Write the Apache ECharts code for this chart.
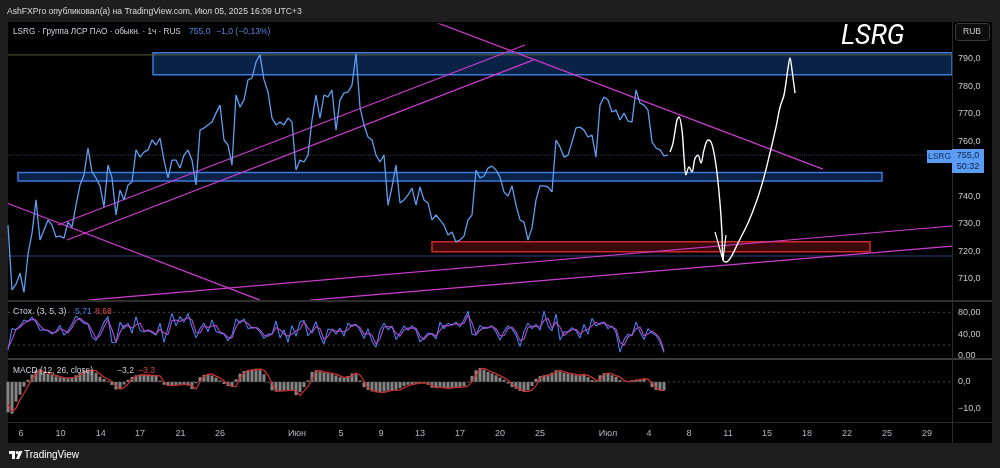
<!DOCTYPE html>
<html><head><meta charset="utf-8">
<script src="https://cdn.jsdelivr.net/npm/echarts@6/dist/echarts.min.js"></script>
<style>html,body{margin:0;padding:0;background:#1e1e1e;}#c{width:1000px;height:468px;}</style>
</head><body><div id="c"></div>
<script>
// ---- data (x = bar index, 1 step per sample) ----
const priceValues = [
729.5,705.9,708,712,705,719,726.6,738.7,724.1,727.7,
731.4,729.5,725.2,725.5,724.8,730.6,728.8,736.8,744.1,747.8,
757.6,748.9,746.7,743.8,736.1,751.4,746.7,733.2,742.3,738.7,
744.1,745.2,756.9,754.3,756.1,756.9,760.5,758.7,761.2,753.2,
746.7,753.2,753.2,750.3,755.0,756.9,753.2,744.1,764.1,764.9,
766.0,767.1,770.3,773.2,760.5,758.7,751.4,776.9,772.5,775.1,
782.4,783.1,788.9,791.5,782.4,778.0,768.5,766.0,767.1,766.0,
768.5,767.1,749.6,753.2,752.5,755.0,767.8,776.9,768.5,776.9,
776.2,778.7,764.1,775.1,777.6,778.0,780.5,792.0,772.5,766.0,
761.6,760.5,755.0,752.5,755.0,736.8,743.4,751.4,737.6,738.7,
740.5,743.0,736.8,743.4,738.7,737.6,731.4,733.2,731.4,729.5,
725.9,727.0,723.4,724.1,725.5,731.4,733.2,749.6,746.7,747.4,
750.3,751.0,749.6,747.0,741.6,740.1,743.8,736.8,731.4,730.6,
724.1,728.5,738.7,743.8,743.8,743.4,741.6,760.5,758.0,754.3,
755.0,759.8,764.9,765.2,764.1,761.6,762.3,754.3,773.2,776.2,
775.1,770.7,771.4,767.8,770.3,767.4,767.1,778.7,774.0,773.2,
771.4,759.8,757.6,756.9,754.7,755.0];
const stochK = [
11,50,48,55,66,63,71,62,47,48,46,40,45,56,38,46,58,73,66,60,
58,35,28,45,62,72,24,25,62,50,60,42,72,47,44,48,43,38,60,25,
52,78,55,72,62,78,53,33,50,60,44,66,45,42,40,28,38,68,60,68,
50,52,52,44,32,40,40,64,33,48,25,56,36,62,65,37,46,63,38,22,
49,49,40,51,36,60,54,58,47,32,50,27,16,47,60,48,55,30,42,55,
47,55,47,26,33,42,40,31,62,50,60,56,62,53,67,82,40,38,56,50,
52,55,44,29,45,55,50,38,17,45,60,50,58,47,82,55,46,77,29,44,
44,52,46,33,58,40,69,55,60,62,50,55,43,7,30,40,37,62,44,30,
50,42,38,26,6];
const stochD = [
14,30,49,52,60,64,67,66,55,48,47,43,43,50,47,42,52,65,69,63,
59,46,32,37,53,67,48,25,43,56,55,51,57,60,46,46,45,40,49,42,
39,65,66,63,67,70,66,43,42,55,52,55,56,44,41,34,33,53,64,64,
59,51,52,48,38,36,40,52,48,40,36,40,46,49,63,51,42,54,50,30,
36,49,45,46,44,48,57,56,52,40,41,38,22,32,53,54,52,42,36,48,
51,51,51,36,30,38,41,36,47,56,55,58,59,58,60,75,61,39,47,53,
51,54,50,37,37,50,53,44,28,31,52,55,54,53,65,69,51,62,53,37,
44,48,49,40,46,49,55,62,58,61,56,53,49,25,19,35,39,50,53,37,
40,46,40,32,9];
const macdValues = [
-11.5,-12.0,-7.5,-4.8,-1.8,0.8,2.8,4.4,4.8,3.6,3.0,2.6,2.1,1.7,1.5,1.4,1.6,2.5,3.4,4.1,
4.5,4.4,3.4,2.0,1.1,0.3,-1.2,-2.9,-2.4,-1.0,0.8,1.9,2.5,2.7,2.6,2.6,2.5,2.4,0.5,-1.1,
-1.5,-1.3,-1.2,-1.0,-0.9,-1.4,-2.7,-0.5,1.8,2.7,3.0,2.4,1.6,0.5,-0.8,-1.6,-1.9,1.0,3.1,4.1,
4.5,4.6,5.0,4.6,2.9,-0.2,-3.2,-3.6,-3.4,-3.3,-3.1,-3.3,-5.0,-3.8,-2.0,0.6,3.8,4.4,3.9,3.6,
3.3,3.0,2.4,1.8,1.6,2.2,3.2,2.9,0.6,-2.0,-3.0,-3.6,-3.9,-4.0,-3.7,-3.3,-3.1,-3.0,-2.4,-1.6,
-1.1,-0.8,-0.5,-0.4,-0.4,-1.1,-2.2,-2.1,-2.2,-2.4,-2.3,-2.2,-2.0,-2.0,-1.6,-0.2,2.3,4.4,5.3,4.6,
3.8,3.2,2.5,1.7,0.8,-0.6,-2.0,-2.6,-3.4,-3.8,-3.2,-1.6,1.2,2.2,2.5,2.8,3.5,4.4,4.0,3.5,
3.2,2.9,2.5,2.7,2.6,1.8,0.7,0.5,2.5,3.3,3.1,2.5,1.9,0.7,0.1,0.2,0.6,0.8,1.1,1.1,
0.0,-2.0,-3.0,-3.2,-3.2];
const signalValues = [
-8.6,-11.2,-10.0,-6.7,-4.3,-1.5,1.0,3.0,4.5,3.9,3.4,2.9,2.5,2.0,1.6,1.5,1.5,1.7,2.6,3.5,
4.2,4.4,4.2,3.0,1.8,1.0,0.2,-1.5,-2.8,-2.2,-0.8,1.0,2.0,2.6,2.6,2.6,2.5,2.4,2.3,0.0,
-1.3,-1.4,-1.2,-1.1,-1.0,-0.8,-1.5,-2.8,0.0,2.1,2.8,3.0,2.2,1.5,0.3,-0.9,-1.7,-1.8,1.5,3.3,
4.2,4.5,4.5,4.9,4.4,2.5,-0.6,-3.5,-3.5,-3.4,-3.3,-3.1,-3.4,-5.2,-3.4,-1.8,1.0,4.0,4.3,3.8,
3.5,3.2,2.9,2.3,1.7,1.7,2.3,3.3,2.6,0.3,-2.2,-3.1,-3.7,-3.9,-4.0,-3.6,-3.2,-3.1,-3.1,-2.2,
-1.5,-1.0,-0.7,-0.5,-0.5,-0.5,-1.3,-2.3,-2.0,-2.2,-2.4,-2.3,-2.1,-2.0,-2.0,-1.5,0.0,2.5,4.6,5.1,
4.4,3.7,3.1,2.4,1.6,0.6,-0.8,-2.1,-2.7,-3.5,-3.7,-3.0,-1.4,1.4,2.3,2.5,2.9,3.6,4.5,3.8,
3.4,3.1,2.8,2.5,2.8,2.5,1.7,0.6,0.8,2.7,3.3,3.0,2.4,1.8,0.6,0.1,0.3,0.7,0.7,1.2,
1.0,-0.2,-2.2,-3.1,-3.3];
const dateTickIndex = [3.25,13.15,23.2,33,43.1,53,72.25,83.25,93.25,103,113,123,133,150,160.25,170.25,180,189.75,199.75,209.75,219.75,229.75];
const dateTickLabels = ['6','10','14','17','21','26','Июн','5','9','13','17','20','25','Июл','4','8','11','15','18','22','25','29'];
const priceTicks = [710,720,730,740,750,760,770,780,790];
const stochTicks = [0,40,80];
const stochLevels = [80,20];
const macdTicks = [-10,0];
const lastPrice = 755.0, change = -1.0, changePct = -0.13;
const stochLast = [5.71, 8.68];
const macdLast = [-3.2, -3.3];
// zones: [x1, low, x2, high, kind(0 blue,1 red)]
const zones = [[36.25,784.3,236,792.3,0],[2.5,745.6,218.5,748.7,0],[106,719.8,215.5,723.5,1]];
const trendLines = [
 [[12.5,729.55],[129.25,795.1]],
 [[14.75,724.1],[131.25,789.6]],
 [[0,737.4],[63,702.2]],
 [[106.75,803.5],[203.75,749.9]],
 [[20,702.2],[236,729.2]],
 [[75.5,702.2],[236,721.9]]
];
const levelOlive = 791.5, levelNavy = 718.3;
const projection = [[165.5,756.1],[166.25,759.4],[167.25,767.8],[167.75,768.9],[168.5,764.1],[169,754.3],[169.5,747.8],[170.25,750.7],[171,748.9],[171.75,753.9],[172.5,755.0],[173.25,752.1],[174,756.9],[175,760.5],[175.75,759.8],[176.5,755.8],[177.25,748.5],[178,737.6],[178.5,726.6],[178.75,716.8],[179.5,716.1],[180.75,717.9],[182.5,723.0],[185,730.3],[187.25,738.7],[189,747.0],[190.5,755.8],[192,765.2],[193,772.5],[194,776.9],[195,786.7],[195.5,790.4],[196,786.0],[196.75,777.6]];
const arrowHead = [[176.75,727.0],[178.75,716.8],[179.5,725.9]];
const X_MAX = 236;

// ---- chart ----
const F = '"Liberation Sans", Arial, sans-serif';
const fmt = (v,d) => (v<0?'\u2212':'') + Math.abs(v).toFixed(d).replace('.',',');
const idx = a => a.map((v,i)=>[i,v]);
const chart = echarts.init(document.getElementById('c'), null, {width:1000, height:468});
const xBase = i => ({gridIndex:i, type:'value', min:0, max:X_MAX, show:i===2,
  axisLine:{show:false}, axisTick:{show:false}, splitLine:{show:false},
  axisLabel: i===2 ? {show:true, customValues:dateTickIndex, margin:7, color:'#b2b5be', fontSize:9, fontFamily:F,
    formatter: v => { let best=0,d=1e9; dateTickIndex.forEach((t,k)=>{const dd=Math.abs(t-v); if(dd<d){d=dd;best=k;}}); return dateTickLabels[best]; }} : {show:false}});
const yBase = (i,min,max,ticks,dec) => ({gridIndex:i, type:'value', position:'right', min, max,
  axisLine:{show:false}, axisTick:{show:false}, splitLine:{show:false},
  axisLabel:{customValues:ticks, margin:6, color:'#c8c8c8', fontSize:9, fontFamily:F, formatter: v=>fmt(v,dec)}});
const line = (data, color, w, extra) => Object.assign({type:'line', data, symbol:'none', silent:true,
  lineStyle:{color, width:w}, itemStyle:{color}, xAxisIndex:0, yAxisIndex:0}, extra||{});

const series = [];
series.push({type:'custom', xAxisIndex:0, yAxisIndex:0, clip:true, z:1, silent:true,
  data: zones, encode:{x:[0,2], y:[1,3]},
  renderItem(p, api){
    const a = api.coord([api.value(0), api.value(3)]);
    const b = api.coord([api.value(2), api.value(1)]);
    const red = api.value(4)===1;
    return {type:'rect', shape:{x:a[0], y:a[1], width:b[0]-a[0], height:b[1]-a[1]},
      style:{fill: red?'#3a0909':'#0a2246', stroke: red?'#cf2828':'#3c7ae0', lineWidth:1.5}};
  }});
series.push(line([[0,levelOlive],[X_MAX,levelOlive]], '#5e5d3a', 1, {z:1}));
series.push(line([[0,levelNavy],[X_MAX,levelNavy]], '#1e2d52', 1.5, {z:1}));
series.push(line([[0,lastPrice],[X_MAX,lastPrice]], '#3a4150', 1, {z:1, lineStyle:{color:'#3a4150', width:1, type:'dotted'}}));
trendLines.forEach(t => series.push(line(t, '#d03cd0', 1.2, {z:3})));
series.push(line(idx(priceValues), '#5e9ef2', 1.3, {z:4}));
series.push(line(projection, '#ffffff', 1.4, {z:5, smooth:0.35}));
series.push(line(arrowHead, '#ffffff', 1.2, {z:5}));
stochLevels.forEach(l => series.push(line([[0,l],[X_MAX,l]], '#4a4a4a', 1, {xAxisIndex:1, yAxisIndex:1, lineStyle:{color:'#4a4a4a', width:1, type:[2,3]}})));
series.push(line(idx(stochK), '#4a7ff0', 1.1, {xAxisIndex:1, yAxisIndex:1}));
series.push(line(idx(stochD), '#b54bcf', 1.1, {xAxisIndex:1, yAxisIndex:1}));
series.push(line([[0,0],[X_MAX,0]], '#4a4a4a', 1, {xAxisIndex:2, yAxisIndex:2, lineStyle:{color:'#4a4a4a', width:1, type:[2,3]}}));
series.push({type:'bar', data: idx(macdValues), xAxisIndex:2, yAxisIndex:2, barWidth:3, silent:true,
  itemStyle:{color:'#858585'}});
series.push(line(idx(signalValues), '#c73232', 1.3, {xAxisIndex:2, yAxisIndex:2}));

const T = (text, x, y, size, fill, extra) => Object.assign({type:'text', x, y, z:100,
  style:Object.assign({text, fill, font: size+'px '+F, textVerticalAlign:'middle'}, (extra&&extra.style)||{})}, extra&&extra.el||{});

const graphics = [
  {type:'rect', shape:{x:8,y:22,width:984,height:421}, style:{fill:'#000000'}, z:-10, silent:true},
  {type:'line', shape:{x1:8,y1:301,x2:992,y2:301}, style:{stroke:'#2e2e2e', lineWidth:2}, z:50},
  {type:'line', shape:{x1:8,y1:359,x2:992,y2:359}, style:{stroke:'#3c3c3c', lineWidth:2}, z:50},
  {type:'line', shape:{x1:8,y1:422.5,x2:992,y2:422.5}, style:{stroke:'#2a2a2a', lineWidth:1}, z:50},
  {type:'line', shape:{x1:952.5,y1:22,x2:952.5,y2:443}, style:{stroke:'#2c2c2c', lineWidth:1}, z:50},
  T('AshFXPro опубликовал(а) на TradingView.com, Июл 05, 2025 16:09 UTC+3', 7, 11.5, 8.6, '#dadada'),
  T('LSRG · Группа ЛСР ПАО · обыкн. · 1ч · RUS', 13, 31.5, 8.2, '#d1d4dc'),
  T(fmt(lastPrice,1), 189, 31.5, 8.6, '#4f86dc'),
  T(fmt(change,1)+' ('+fmt(changePct,2)+'%)', 216, 31.5, 8.6, '#4f86dc'),
  T('Стох. (3, 5, 3)', 13, 312, 8.6, '#d1d4dc'),
  T(fmt(stochLast[0],2), 75, 312, 8.6, '#4a7ff0'),
  T(fmt(stochLast[1],2), 95, 312, 8.6, '#e04a4a'),
  T('MACD (12, 26, close)', 13, 371, 8.4, '#d1d4dc'),
  T(fmt(macdLast[0],1), 117, 371, 8.6, '#c8c8c8'),
  T(fmt(macdLast[1],1), 138, 371, 8.6, '#e04040'),
  T('LSRG', 841, 37, 27, '#ffffff', {style:{font:'italic 27px Roboto, '+F}}),
  {type:'rect', shape:{x:955.5,y:23.5,width:34,height:17,r:3}, style:{fill:'#0d0d0d', stroke:'#3a3a3a', lineWidth:1}, z:60},
  T('RUB', 972, 32, 8.5, '#d0d0d0', {style:{textAlign:'center'}}),
  {type:'rect', shape:{x:927,y:150,width:25,height:13}, style:{fill:'#5b9cf5'}, z:60},
  T('LSRG', 939.5, 156.5, 8.5, '#14305e', {style:{textAlign:'center'}}),
  {type:'rect', shape:{x:952,y:149,width:32,height:24}, style:{fill:'#5b9cf5'}, z:60},
  T(fmt(lastPrice,1), 968, 156, 9, '#0f2347', {style:{textAlign:'center'}}),
  T('50:32', 968, 166.5, 9, '#0f2347', {style:{textAlign:'center'}}),
  {type:'rect', shape:{x:9,y:451,width:6,height:3}, style:{fill:'#ffffff'}, z:60},
  {type:'rect', shape:{x:12,y:451,width:3,height:8}, style:{fill:'#ffffff'}, z:60},
  {type:'circle', shape:{cx:17.3,cy:452.6,r:1.6}, style:{fill:'#ffffff'}, z:60},
  {type:'polygon', shape:{points:[[16,459],[19.5,451],[22.5,451],[19,459]]}, style:{fill:'#ffffff'}, z:60},
  T('TradingView', 24, 455.5, 10, '#ffffff', {style:{font:'10px "Liberation Sans Narrow", '+F}})
];

chart.setOption({
  animation:false,
  backgroundColor:'#1e1e1e',
  grid:[{left:8,right:48,top:24,height:276},{left:8,right:48,top:302,height:56},{left:8,right:48,top:360,height:62}],
  xAxis:[xBase(0), xBase(1), xBase(2)],
  yAxis:[yBase(0,702.25,802.75,priceTicks,1), yBase(1,-3.85,98.9,stochTicks,2), yBase(2,-15.15,8.27,macdTicks,1)],
  series,
  graphic:{elements:graphics}
});
</script></body></html>
